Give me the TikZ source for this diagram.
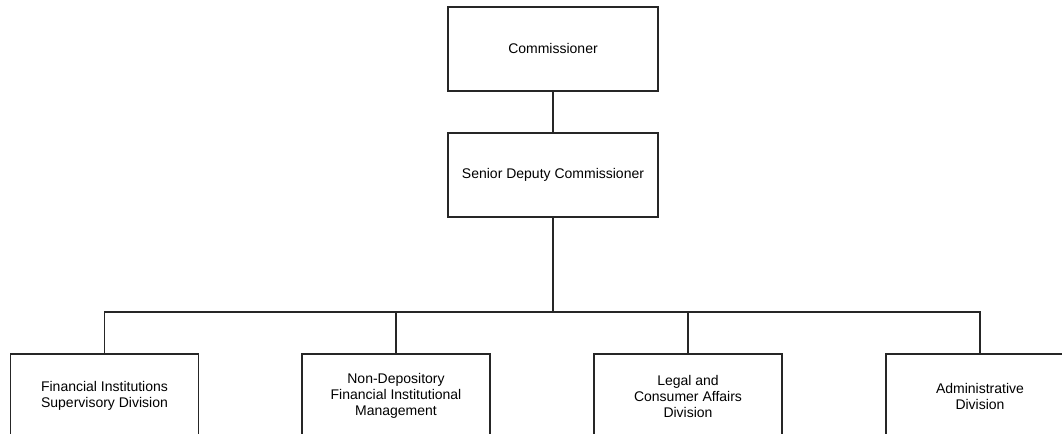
\documentclass[tikz,border=0pt]{standalone}
\usepackage{fontspec}
\setmainfont{Liberation Sans}
\begin{document}
\begin{tikzpicture}[x=0.75pt,y=-0.75pt,
  orgbox/.style={draw=black!85,line width=0.8pt,rectangle,align=center,
    font=\fontsize{10.5}{12}\selectfont,inner sep=0pt},
  topbox/.style={orgbox,minimum width=157.5pt,minimum height=63pt},
  divbox/.style={orgbox,minimum width=141pt,minimum height=63pt},
  link/.style={draw=black!85,line width=0.8pt}]
\useasboundingbox (0,0) rectangle (1062,434);
\clip (0,0) rectangle (1062,434);
\node[topbox] (comm) at (553,49) {Commissioner};
\node[topbox] (sen) at (553,175) {Senior Deputy Commissioner};
\node[divbox] (b1) at (104.5,396) {Financial Institutions\\Supervisory Division};
\node[divbox] (b2) at (396,396) {Non-Depository\\Financial Institutional\\Management};
\node[divbox] (b3) at (688,396) {Legal and\\Consumer Affairs\\Division};
\node[divbox] (b4) at (980,396) {Administrative\\Division};
\coordinate (bus) at (553,312);
\draw[link] (comm) -- (sen);
\draw[link] (sen) -- (bus);
\draw[link] (b1.north) -- (b1.north |- bus) -- (b4.north |- bus) -- (b4.north);
\draw[link] (b2.north) -- (b2.north |- bus);
\draw[link] (b3.north) -- (b3.north |- bus);
\end{tikzpicture}
\end{document}
